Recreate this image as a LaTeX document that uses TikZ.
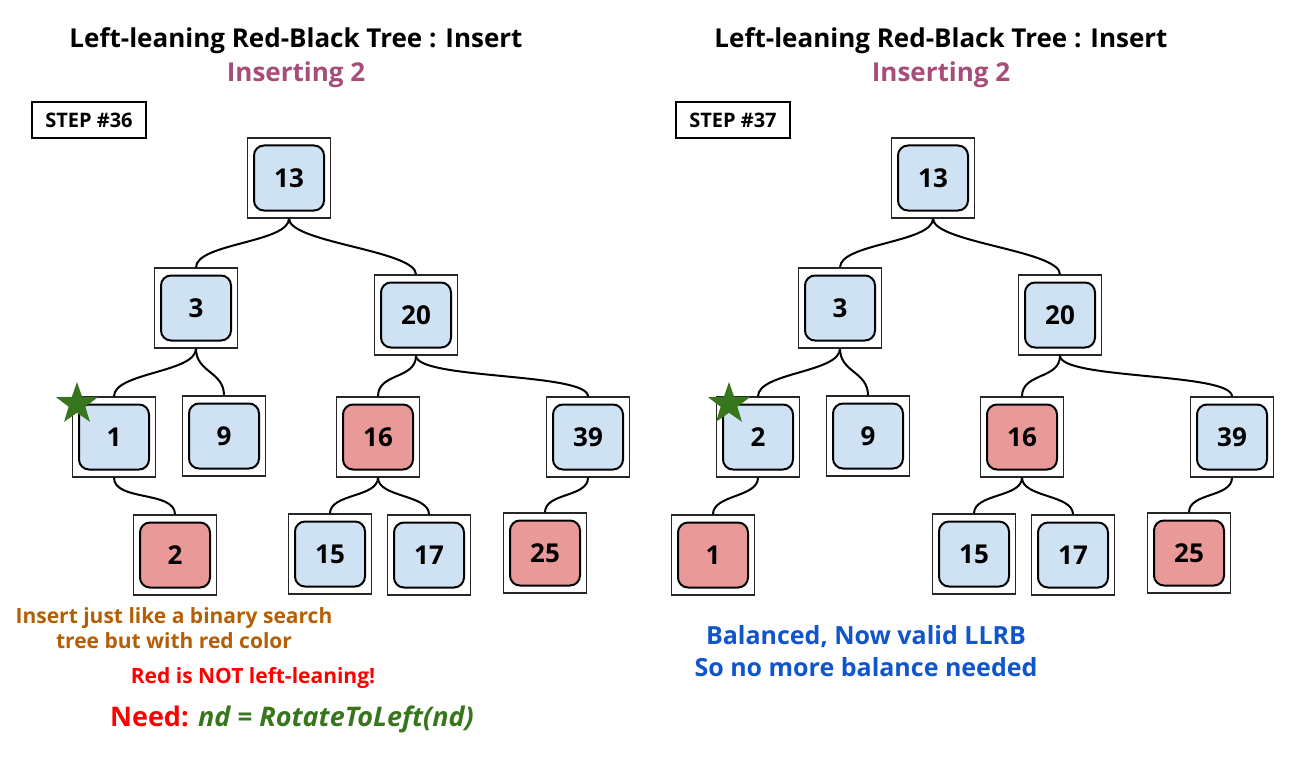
\documentclass[tikz,border=0pt]{standalone}
\usepackage{fontspec}
\setmainfont{Open Sans}
\usetikzlibrary{shapes.geometric}
\definecolor{nblue}{HTML}{CFE2F3}
\definecolor{nred}{HTML}{EA9999}
\definecolor{tpurple}{HTML}{A64D79}
\definecolor{torange}{HTML}{B45F06}
\definecolor{tgreen}{HTML}{38761D}
\definecolor{tblue}{HTML}{1155CC}
\tikzset{
  outerbox/.style={draw=black!85, line width=1.2pt, fill=white, minimum width=83pt, minimum height=80pt, inner sep=0pt},
  innerbox/.style={draw=black, line width=2pt, rounded corners=10pt, minimum width=70pt, minimum height=65pt, inner sep=0pt, font=\bfseries\fontsize{26}{30}\selectfont},
  bluenode/.style={innerbox, fill=nblue},
  rednode/.style={innerbox, fill=nred},
  link/.style={line width=2pt, out=-90, in=90, out distance=24pt, in distance=24pt},
  stepbox/.style={draw=black, line width=1.5pt, minimum width=114pt, minimum height=36pt, inner sep=0pt, font=\bfseries\fontsize{20}{24}\selectfont},
  titletext/.style={font=\bfseries\fontsize{26}{30}\selectfont},
  mark star/.style={star, star points=5, star point ratio=2.5, minimum size=44pt, inner sep=0pt, fill=tgreen},
}
\begin{document}
\begin{tikzpicture}[x=1pt,y=-1pt]
\useasboundingbox (0,0) rectangle (1306,765);
% ---------- left panel ----------
\node[titletext] (tl) at (296,41) {Left-leaning Red-Black Tree : Insert};
\node[titletext, text=tpurple] (sl) at (296,75) {Inserting 2};
\node[stepbox] (stepl) at (89,120) {STEP \#36};

\foreach \n/\x/\y in {a13/289/178, a3/196/308, a20/416/315, a1/114/437, a9/224/436, a16/378/437, a39/588/437, a2/175/555, a15/330/554, a17/429/555, a25/545/553}{
  \node[outerbox] (\n) at (\x,\y) {};
}
\node[bluenode] (a13i) at (a13) {13};
\node[bluenode] (a3i) at (a3) {3};
\node[bluenode] (a20i) at (a20) {20};
\node[bluenode] (a1i) at (a1) {1};
\node[bluenode] (a9i) at (a9) {9};
\node[rednode] (a16i) at (a16) {16};
\node[bluenode] (a39i) at (a39) {39};
\node[rednode] (a2i) at (a2) {2};
\node[bluenode] (a15i) at (a15) {15};
\node[bluenode] (a17i) at (a17) {17};
\node[rednode] (a25i) at (a25) {25};

\draw[link] (a13.south) to (a3.north);
\draw[link] (a13.south) to (a20.north);
\draw[link] (a3.south) to (a1.north);
\draw[link] (a3.south) to (a9.north);
\draw[link] (a20.south) to (a16.north);
\draw[link] (a20.south) to (a39.north);
\draw[link] (a1.south) to (a2.north);
\draw[link,out distance=20pt,in distance=20pt] (a16.south) to (a15.north);
\draw[link,out distance=20pt,in distance=20pt] (a16.south) to (a17.north);
\draw[link,out distance=20pt,in distance=20pt] (a39.south) to (a25.north);

\node[mark star] (starl) at (77,404) {};

\node[font=\bfseries\fontsize{21}{25}\selectfont, text=torange, align=center] (insl) at (174,628) {Insert just like a binary search\\tree but with red color};
\node[font=\bfseries\fontsize{21}{24}\selectfont, text=red] (redl) at (253,678) {Red is NOT left-leaning!};
\node[font=\bfseries\fontsize{27}{30}\selectfont] (needl) at (292,719) {\textcolor{red}{Need:} \textcolor{tgreen}{\itshape nd = RotateToLeft(nd)}};

% ---------- right panel ----------
\node[titletext] (tr) at (941,41) {Left-leaning Red-Black Tree : Insert};
\node[titletext, text=tpurple] (sr) at (941,75) {Inserting 2};
\node[stepbox] (stepr) at (733,120) {STEP \#37};

\foreach \n/\x/\y in {b13/933/178, b3/840/308, b20/1060/315, b2/758/437, b9/868/436, b16/1022/437, b39/1232/437, b1/713/555, b15/974/554, b17/1073/555, b25/1189/553}{
  \node[outerbox] (\n) at (\x,\y) {};
}
\node[bluenode] (b13i) at (b13) {13};
\node[bluenode] (b3i) at (b3) {3};
\node[bluenode] (b20i) at (b20) {20};
\node[bluenode] (b2i) at (b2) {2};
\node[bluenode] (b9i) at (b9) {9};
\node[rednode] (b16i) at (b16) {16};
\node[bluenode] (b39i) at (b39) {39};
\node[rednode] (b1i) at (b1) {1};
\node[bluenode] (b15i) at (b15) {15};
\node[bluenode] (b17i) at (b17) {17};
\node[rednode] (b25i) at (b25) {25};

\draw[link] (b13.south) to (b3.north);
\draw[link] (b13.south) to (b20.north);
\draw[link] (b3.south) to (b2.north);
\draw[link] (b3.south) to (b9.north);
\draw[link] (b20.south) to (b16.north);
\draw[link] (b20.south) to (b39.north);
\draw[link,out distance=20pt,in distance=20pt] (b2.south) to (b1.north);
\draw[link,out distance=20pt,in distance=20pt] (b16.south) to (b15.north);
\draw[link,out distance=20pt,in distance=20pt] (b16.south) to (b17.north);
\draw[link,out distance=20pt,in distance=20pt] (b39.south) to (b25.north);

\node[mark star] (starr) at (729,404) {};

\node[font=\bfseries\fontsize{25}{32}\selectfont, text=tblue, align=center] (balr) at (866,651) {Balanced, Now valid LLRB\\So no more balance needed};
\end{tikzpicture}
\end{document}
